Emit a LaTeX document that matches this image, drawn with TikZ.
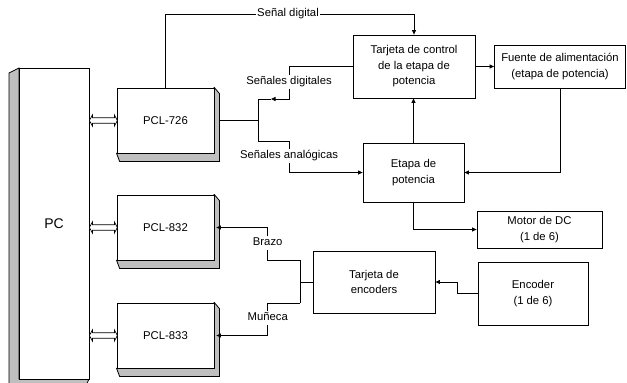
\documentclass[tikz,border=0pt]{standalone}
\usepackage{fontspec}
\setmainfont{Liberation Sans}
\usetikzlibrary{arrows.meta,calc}
\newcommand\pclshadow[1]{\draw[shade] (#1.north east) -- ++(5,6) -- ($(#1.south east)+(5,8)$) -- ($(#1.south west)+(3,8)$) -- (#1.south west) -- cycle;}
\newcommand\busarrow[1]{\coordinate (ba#1) at (pc.east |- #1.west);
  \draw[bus] (ba#1) -- ++(3,-5.5) -- ++(0,2.7) -- ++(22,0) -- ++(0,-2.7) -- ++(3,5.5) -- ++(-3,5.5) -- ++(0,-2.7) -- ++(-22,0) -- ++(0,2.7) -- cycle;}
\begin{document}
\begin{tikzpicture}[x=1pt,y=-1pt,
  line width=0.8pt,
  box/.style={draw, fill=white, align=center, inner sep=0pt, font=\fontsize{11.3}{15.5}\selectfont},
  lbl/.style={fill=white, inner sep=1.5pt, font=\fontsize{11.3}{13}\selectfont, text height=8pt, text depth=2.5pt},
  arr/.style={-{Triangle[length=4.5pt,width=4pt]}},
  shade/.style={draw, fill=black!25, line join=miter},
  bus/.style={draw, fill=white, line width=0.7pt}
]
\useasboundingbox (0,0) rectangle (627,383);
\clip (0,0) rectangle (627,383);

% PC
\draw[shade] (19,68) -- (9,73) -- (9,390) -- (84,390) -- (89,379) -- (19,379) -- cycle;
\node[box, minimum width=70pt, minimum height=311pt, font=\fontsize{14}{16}\selectfont] (pc) at (54,223.5) {PC};

% PCL cards
\node[box, minimum width=97pt, minimum height=65pt] (p726) at (165.5,120.5) {};
\node[box, minimum width=97pt, minimum height=65pt] (p832) at (165.5,227.5) {};
\node[box, minimum width=97pt, minimum height=65pt] (p833) at (165.5,335.5) {};
\pclshadow{p726}\pclshadow{p832}\pclshadow{p833}
\node[box, minimum width=97pt, minimum height=65pt] at (p726) {PCL-726};
\node[box, minimum width=97pt, minimum height=65pt] at (p832) {PCL-832};
\node[box, minimum width=97pt, minimum height=65pt] at (p833) {PCL-833};

\busarrow{p726}\busarrow{p832}\busarrow{p833}

% other blocks
\node[box, minimum width=122pt, minimum height=63pt] (tc) at (414,66.5) {Tarjeta de control\\de la etapa de\\potencia};
\node[box, minimum width=131pt, minimum height=43pt] (fa) at (560,66.5) {Fuente de alimentación\\(etapa de potencia)};
\node[box, minimum width=101pt, minimum height=59pt] (ep) at (413.5,172.5) {Etapa de\\potencia};
\node[box, minimum width=125pt, minimum height=37pt] (mdc) at (539.5,229.5) {Motor de DC\\(1 de 6)};
\node[box, minimum width=122pt, minimum height=62pt] (te) at (374,282) {Tarjeta de\\encoders};
\node[box, minimum width=110pt, minimum height=63pt] (enc) at (533,293.5) {Encoder\\(1 de 6)};

% Señal digital
\coordinate (sdt) at (165.5,14);
\draw[arr] (p726.north) -- (sdt) -| (tc.north);
\node[lbl] (sdl) at (288,14) {Señal digital};

% PCL-726 outputs
\coordinate (j1) at (258,120.5);
\coordinate (jt) at (258,99);
\coordinate (jb) at (258,141);
\coordinate (ja) at (271,99);
\draw ([xshift=5pt]p726.east) -- (j1);
\draw (jt) -- (jb);
\node[lbl] (sdg) at (289,81.7) {Señales digitales};
\draw (tc.west) -| (sdg.north);
\draw[arr] (sdg.south) |- (ja);
\draw (ja) -- (jt);
\node[lbl] (sag) at (289,156) {Señales analógicas};
\draw (jb) -| (sag.north);
\draw[arr] (sag.south) |- (ep.west);

% power stage
\draw[arr] (tc.east) -- (fa.west);
\draw[arr] (ep.north) -- (ep.north |- tc.south);
\draw[arr] (fa.south) |- (ep.east);
\draw[arr] (ep.south) |- (mdc.west);

% encoders
\draw[arr] (enc.west) -- ++(-20.4,0) |- (te.east);
\coordinate (jv) at (300,282);
\coordinate (jvt) at (300,260);
\coordinate (jvb) at (300,303.3);
\draw (te.west) -- (jv);
\draw (jvt) -- (jvb);
\node[lbl] (brz) at (267.7,243) {Brazo};
\node[lbl] (mun) at (267.7,318) {Muñeca};
\draw (jvt) -| (brz.south);
\draw[arr] (brz.north) |- ([xshift=2pt]p832.east);
\draw (jvb) -| (mun.north);
\draw[arr] (mun.south) |- ([xshift=2pt]p833.east);
\end{tikzpicture}
\end{document}
